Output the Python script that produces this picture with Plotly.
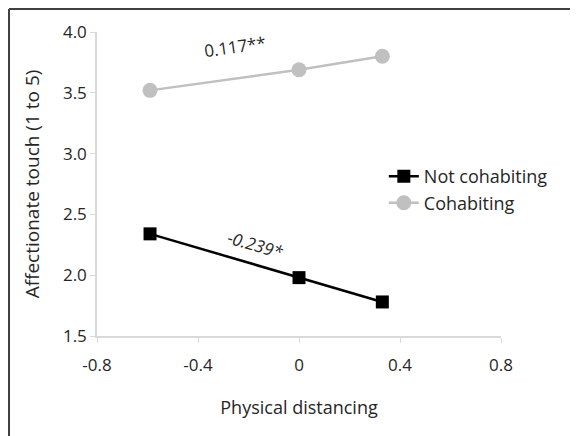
import plotly.graph_objects as go

x_vals = [-0.59, 0.0, 0.33]
not_cohab = [2.34, 1.98, 1.78]
cohab = [3.52, 3.69, 3.80]
x_ticks = [-0.8, -0.4, 0, 0.4, 0.8]
x_tick_labels = ["-0.8", "-0.4", "0", "0.4", "0.8"]
y_ticks = [1.5, 2.0, 2.5, 3.0, 3.5, 4.0]
y_tick_labels = ["1.5", "2.0", "2.5", "3.0", "3.5", "4.0"]

FONT = "Open Sans"

fig = go.Figure()
fig.add_trace(go.Scatter(x=x_vals, y=not_cohab, mode="lines+markers", name="Not cohabiting",
                         line=dict(color="black", width=2.5),
                         marker=dict(symbol="square", size=13, color="black")))
fig.add_trace(go.Scatter(x=x_vals, y=cohab, mode="lines+markers", name="Cohabiting",
                         line=dict(color="#c0c0c0", width=2.5),
                         marker=dict(symbol="circle", size=15, color="#c0c0c0")))

fig.add_annotation(x=-0.253, y=3.877, text="0.117**", showarrow=False, textangle=-8,
                   font=dict(family=FONT, size=17, color="#262626"))
fig.add_annotation(x=-0.174, y=2.255, text="<i>-0.239*</i>", showarrow=False, textangle=16,
                   font=dict(family=FONT, size=17, color="#262626"))

# outer frame (left and top edges visible)
fig.add_shape(type="line", xref="paper", yref="paper", x0=-0.2178, x1=1.3, y0=1.0757, y1=1.0757,
              line=dict(color="#404040", width=2))
fig.add_shape(type="line", xref="paper", yref="paper", x0=-0.2178, x1=-0.2178, y0=1.0757, y1=-0.4,
              line=dict(color="#404040", width=2))

fig.update_layout(
    width=578, height=436,
    margin=dict(l=89, r=85, t=24, b=108),
    paper_bgcolor="white", plot_bgcolor="white",
    font=dict(family=FONT, size=17, color="#262626"),
    showlegend=True,
    legend=dict(x=0.71, y=0.585, xanchor="left", yanchor="top", bgcolor="rgba(0,0,0,0)",
                font=dict(family=FONT, size=18, color="#262626"), tracegroupgap=0),
    xaxis=dict(range=[-0.8, 0.8], tickvals=x_ticks, ticktext=x_tick_labels, showgrid=False,
               zeroline=False, showline=True, linecolor="#d9d9d9", linewidth=1.5,
               ticks="outside", ticklen=5, tickcolor="#d9d9d9", automargin=False,
               tickfont=dict(size=17), ticklabelstandoff=8,
               title=dict(text="Physical distancing", font=dict(size=18), standoff=26)),
    yaxis=dict(range=[1.5, 4.0], tickvals=y_ticks, ticktext=y_tick_labels, showgrid=False,
               zeroline=False, showline=True, linecolor="#d9d9d9", linewidth=1.5,
               ticks="outside", ticklen=5, tickcolor="#d9d9d9", automargin=False,
               tickfont=dict(size=17),
               title=dict(text="Affectionate touch (1 to 5)", font=dict(size=19), standoff=18)),
)

fig.write_html("out.html")
